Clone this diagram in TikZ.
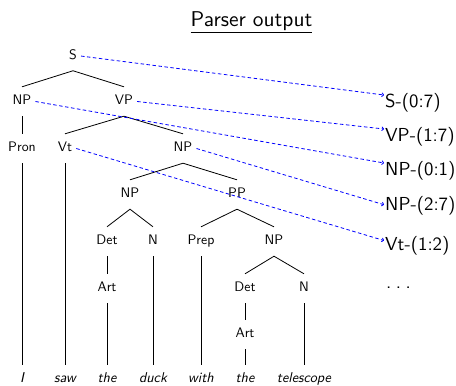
\documentclass[tikz,border=0pt]{standalone}
\usepackage{fontspec}
\setsansfont{lmsans10-regular.otf}[ItalicFont=lmsans10-oblique.otf,BoldFont=lmsans10-bold.otf]
\usetikzlibrary{arrows.meta}
\begin{document}
\begin{tikzpicture}[x=1bp,y=-1bp,
  treenode/.style={anchor=base,inner xsep=4bp,inner ysep=3bp,text height=14.65bp,text depth=8.35bp,
    font=\sffamily\fontsize{13.8bp}{16bp}\selectfont},
  wordnode/.style={anchor=base,inner xsep=2bp,inner ysep=3bp,text height=14bp,text depth=3bp,
    font=\sffamily\itshape\fontsize{14.2bp}{16bp}\selectfont},
  outnode/.style={anchor=base west,inner sep=1bp,font=\sffamily\fontsize{18.8bp}{22bp}\selectfont},
  titlenode/.style={anchor=base,inner sep=0pt,font=\sffamily\fontsize{21.4bp}{24bp}\selectfont},
  edge/.style={draw=black,line width=0.8bp},
  link/.style={draw=blue,line width=0.8bp,dash pattern=on 3.5bp off 2.5bp,-{To[length=2.5bp,width=4.5bp]}}
]
\useasboundingbox (0,0) rectangle (456,385);
\node[titlenode] (title) at (251.5,26.7) {\underline{Parser output}};

% tree nodes (caps centre + 4.65 = baseline)
\node[treenode] (S)    at (73,59.2)  {S};
\node[treenode] (NPa)  at (22,104.65) {NP};
\node[treenode] (VP)   at (124,104.65) {VP};
\node[treenode] (Pron) at (22,151.65) {Pron};
\node[treenode] (Vt)   at (65,151.65) {Vt};
\node[treenode] (NPb)  at (183,151.65) {NP};
\node[treenode] (NPc)  at (130,197.65) {NP};
\node[treenode] (PP)   at (237,197.65) {PP};
\node[treenode] (Deta) at (107,244.65) {Det};
\node[treenode] (Na)   at (153,244.65) {N};
\node[treenode] (Prep) at (201,244.65) {Prep};
\node[treenode] (NPd)  at (274,244.65) {NP};
\node[treenode] (Arta) at (107,291.65) {Art};
\node[treenode] (Detb) at (245,291.65) {Det};
\node[treenode] (Nb)   at (304,291.65) {N};
\node[treenode] (Artb) at (245,337.65) {Art};

% words
\node[wordnode] (w1) at (22,382) {I};
\node[wordnode] (w2) at (65,382) {saw};
\node[wordnode] (w3) at (107,382) {the};
\node[wordnode] (w4) at (153,382) {duck};
\node[wordnode] (w5) at (201,382) {with};
\node[wordnode] (w6) at (245,382) {the};
\node[wordnode] (w7) at (304,382) {telescope};

% tree edges
\draw[edge] (NPa.north) -- (S.south) -- (VP.north);
\draw[edge] (NPa.south) -- (Pron.north);
\draw[edge] (Vt.north) -- (VP.south) -- (NPb.north);
\draw[edge] (Pron.south) -- (w1.north);
\draw[edge] (Vt.south) -- (w2.north);
\draw[edge] (NPc.north) -- (NPb.south) -- (PP.north);
\draw[edge] (Deta.north) -- (NPc.south) -- (Na.north);
\draw[edge] (Prep.north) -- (PP.south) -- (NPd.north);
\draw[edge] (Deta.south) -- (Arta.north);
\draw[edge] (Arta.south) -- (w3.north);
\draw[edge] (Na.south) -- (w4.north);
\draw[edge] (Prep.south) -- (w5.north);
\draw[edge] (Detb.north) -- (NPd.south) -- (Nb.north);
\draw[edge] (Detb.south) -- (Artb.north);
\draw[edge] (Artb.south) -- (w6.north);
\draw[edge] (Nb.south) -- (w7.north);

% output labels
\node[outnode] (oS)   at (384,107)   {S-(0:7)};
\node[outnode] (oVP)  at (384,141.5) {VP-(1:7)};
\node[outnode] (oNPa) at (384,175.5) {NP-(0:1)};
\node[outnode] (oNPb) at (384,210.2) {NP-(2:7)};
\node[outnode] (oVt)  at (384,250.5) {Vt-(1:2)};
\node[outnode] (odots) at (385,288)  {.\kern0.24em.\kern0.24em.};

% links
\draw[link] (S.east) -- ([yshift=12bp]oS.base west);
\draw[link] (VP.east) -- ([yshift=12.5bp]oVP.base west);
\draw[link] (NPa.east) -- ([yshift=12.5bp]oNPa.base west);
\draw[link] (NPb.east) -- ([yshift=5.5bp]oNPb.base west);
\draw[link] (Vt.east) -- ([yshift=10bp]oVt.base west);
\end{tikzpicture}
\end{document}
